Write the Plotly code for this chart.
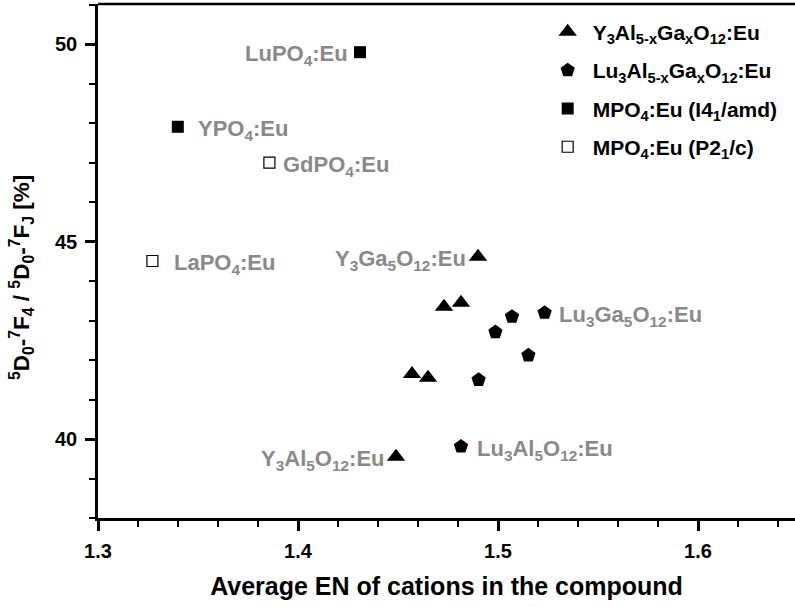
import plotly.graph_objects as go

# Y3Al5-xGaxO12:Eu
yag_x = [1.449, 1.457, 1.465, 1.473, 1.4815, 1.490]
yag_y = [39.55, 41.65, 41.55, 43.35, 43.45, 44.62]
# Lu3Al5-xGaxO12:Eu
luag_x = [1.4815, 1.4903, 1.4987, 1.507, 1.5152, 1.5233]
luag_y = [39.81, 41.50, 42.71, 43.10, 42.12, 43.20]
# MPO4:Eu, I41/amd (YPO4, LuPO4)
tet_x = [1.3399, 1.431]
tet_y = [47.91, 49.80]
# MPO4:Eu, P21/c (LaPO4, GdPO4)
mono_x = [1.3272, 1.3857]
mono_y = [44.51, 47.00]

series_names = [
    "Y<sub>3</sub>Al<sub>5-x</sub>Ga<sub>x</sub>O<sub>12</sub>:Eu",
    "Lu<sub>3</sub>Al<sub>5-x</sub>Ga<sub>x</sub>O<sub>12</sub>:Eu",
    "MPO<sub>4</sub>:Eu (I4<sub>1</sub>/amd)",
    "MPO<sub>4</sub>:Eu (P2<sub>1</sub>/c)",
]

# point labels: (x, y, text, side)
labels = [
    (yag_x[0], yag_y[0], "Y<sub>3</sub>Al<sub>5</sub>O<sub>12</sub>:Eu", "left"),
    (yag_x[5], yag_y[5], "Y<sub>3</sub>Ga<sub>5</sub>O<sub>12</sub>:Eu", "left"),
    (luag_x[0], luag_y[0], "Lu<sub>3</sub>Al<sub>5</sub>O<sub>12</sub>:Eu", "right"),
    (luag_x[5], luag_y[5], "Lu<sub>3</sub>Ga<sub>5</sub>O<sub>12</sub>:Eu", "right"),
    (tet_x[0], tet_y[0], "YPO<sub>4</sub>:Eu", "right"),
    (tet_x[1], tet_y[1], "LuPO<sub>4</sub>:Eu", "left"),
    (mono_x[0], mono_y[0], "LaPO<sub>4</sub>:Eu", "right"),
    (mono_x[1], mono_y[1], "GdPO<sub>4</sub>:Eu", "right"),
]
label_shift = [-9, -10, 14, 12, 18, -10, 20, 12]

y_title = ("<sup>5</sup>D<sub>0</sub>-<sup>7</sup>F<sub>4</sub> / "
           "<sup>5</sup>D<sub>0</sub>-<sup>7</sup>F<sub>J</sub> [%]")
x_title = "Average EN of cations in the compound"

FONT = "Arial, Liberation Sans, sans-serif"

fig = go.Figure()
fig.add_trace(go.Scatter(x=yag_x, y=yag_y, mode="markers", name=series_names[0], legendgroup="a",
                         marker=dict(symbol="triangle-up", size=16, color="black")))
fig.add_trace(go.Scatter(x=luag_x, y=luag_y, mode="markers", name=series_names[1], legendgroup="b",
                         marker=dict(symbol="pentagon", size=15, color="black")))
fig.add_trace(go.Scatter(x=tet_x, y=tet_y, mode="markers", name=series_names[2], legendgroup="c",
                         marker=dict(symbol="square", size=12, color="black")))
fig.add_trace(go.Scatter(x=mono_x, y=mono_y, mode="markers", name=series_names[3], legendgroup="d",
                         marker=dict(symbol="square-open", size=11, color="black",
                                     line=dict(width=1.2))))

for (lx, ly, txt, side), sh in zip(labels, label_shift):
    fig.add_annotation(x=lx, y=ly, text=txt, showarrow=False,
                       xanchor="left" if side == "right" else "right",
                       yanchor="middle", xshift=sh, yshift=-3,
                       font=dict(family=FONT, size=22, color="#898989", weight="bold"))

tick_font = dict(family=FONT, size=20, color="black", weight="bold")
title_font = dict(family=FONT, size=25, color="black", weight="bold")

# y title as a rotated annotation (sits a bit below the axis centre in the original)
fig.add_annotation(xref="paper", yref="paper", x=0, y=0.467, xshift=-76,
                   text=y_title, textangle=-90, showarrow=False,
                   xanchor="center", yanchor="middle",
                   font=dict(family=FONT, size=22.5, color="black", weight="bold"))

# top frame line only (no right-hand line in the original)
fig.add_shape(type="line", xref="paper", yref="paper", x0=0, x1=1, y0=1, y1=1,
              line=dict(color="black", width=2.5))

fig.update_xaxes(
    range=[1.3, 1.6485], tickvals=[1.3, 1.4, 1.5, 1.6], ticktext=["1.3", "1.4", "1.5", "1.6"],
    ticks="outside", ticklen=10, tickwidth=2.5, tickcolor="black", ticklabelstandoff=3,
    minor=dict(dtick=0.02, tick0=1.3, ticks="outside", ticklen=6, tickwidth=2, tickcolor="black",
               showgrid=False),
    showline=True, linewidth=2.5, linecolor="black",
    showgrid=False, zeroline=False, tickfont=tick_font, automargin=False,
    title=dict(text=x_title, font=title_font, standoff=17),
)
fig.update_yaxes(
    range=[38, 51.02], tickvals=[40, 45, 50],
    ticks="outside", ticklen=10, tickwidth=2.5, tickcolor="black", ticklabelstandoff=4,
    minor=dict(dtick=1, tick0=38, ticks="outside", ticklen=6, tickwidth=2, tickcolor="black",
               showgrid=False),
    showline=True, linewidth=2.5, linecolor="black",
    showgrid=False, zeroline=False, tickfont=tick_font, automargin=False,
)

fig.update_layout(
    width=795, height=607,
    margin=dict(l=98, r=0, t=4, b=89),
    plot_bgcolor="white", paper_bgcolor="white",
    font=dict(family=FONT, color="black"),
    legend=dict(x=0.638, y=0.985, xanchor="left", yanchor="top", tracegroupgap=8,
                bgcolor="rgba(0,0,0,0)", font=dict(family=FONT, size=21, color="black", weight="bold"),
                itemwidth=40),
)

fig.write_html("out.html", config={"displayModeBar": False},
               post_script="document.body.style.margin='0';document.body.style.overflow='hidden';")
